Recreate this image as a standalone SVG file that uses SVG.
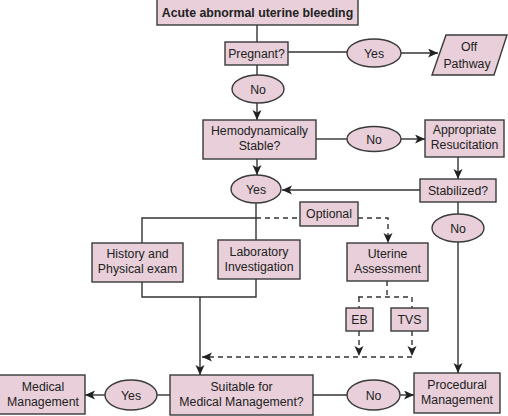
<svg xmlns="http://www.w3.org/2000/svg" width="508" height="416" viewBox="0 0 508 416">
<style>
.box{fill:#E8CFD9;stroke:#3a3a3a;stroke-width:1.4}
.t{font-family:"Liberation Sans",Arial,sans-serif;font-size:12.3px;fill:#222;text-anchor:middle}
.b{font-weight:bold}
.ln{fill:none;stroke:#333;stroke-width:1.4}
.ds{fill:none;stroke:#333;stroke-width:1.4;stroke-dasharray:5 4}
</style>
<defs>
<marker id="ah" markerUnits="userSpaceOnUse" markerWidth="11" markerHeight="10" refX="10" refY="4.5" orient="auto">
<path d="M0,0 L10,4.5 L0,9 L2.5,4.5 z" fill="#222"/>
</marker>
</defs>
<rect width="508" height="416" fill="#fff"/>
<g id="connectors">
<path class="ln" d="M257,25 V42"/>
<path class="ln" d="M288,52 H347"/>
<path class="ln" d="M401,53 H438" marker-end="url(#ah)"/>
<path class="ln" d="M257,65 V75"/>
<path class="ln" d="M257,103 V120" marker-end="url(#ah)"/>
<path class="ln" d="M316,139 H347"/>
<path class="ln" d="M401,139 H425" marker-end="url(#ah)"/>
<path class="ln" d="M458,157 V179" marker-end="url(#ah)"/>
<path class="ln" d="M257,159 V175" marker-end="url(#ah)"/>
<path class="ln" d="M420,190 H282" marker-end="url(#ah)"/>
<path class="ln" d="M256,203 V240"/>
<path class="ln" d="M256,218 H142 V243"/>
<path class="ds" d="M256,218 H300"/>
<path class="ds" d="M358,218 H388 V243" marker-end="url(#ah)"/>
<path class="ln" d="M458,202 V214"/>
<path class="ln" d="M458,242 V373" marker-end="url(#ah)"/>
<path class="ln" d="M142,282 V297 H256 V279"/>
<path class="ln" d="M200,297 V375" marker-end="url(#ah)"/>
<path class="ds" d="M387,281 V297"/>
<path class="ds" d="M358,297 H412"/>
<path class="ds" d="M359,297 V308"/>
<path class="ds" d="M412,297 V308"/>
<path class="ds" d="M359,331 V356" marker-end="url(#ah)"/>
<path class="ds" d="M412,331 V356" marker-end="url(#ah)"/>
<path class="ds" d="M412,357 H202" marker-end="url(#ah)"/>
<path class="ln" d="M170,395 H157"/>
<path class="ln" d="M105,395 H85" marker-end="url(#ah)"/>
<path class="ln" d="M313,395 H347"/>
<path class="ln" d="M400,395 H414" marker-end="url(#ah)"/>
</g>
<g id="n_start"><rect class="box" x="157" y="-1" width="201" height="26"/><text class="t b" x="257.5" y="17">Acute abnormal uterine bleeding</text></g>
<g id="n_pregnant"><rect class="box" x="225" y="42" width="63" height="23"/><text class="t" x="256.5" y="58">Pregnant?</text></g>
<g id="n_yes1"><ellipse class="box" cx="374" cy="53" rx="27" ry="14"/><text class="t" x="374" y="57.5">Yes</text></g>
<g id="n_off"><polygon class="box" points="446,35 507,35 494,75 432,75"/><text class="t" x="469" y="51">Off</text><text class="t" x="467" y="68">Pathway</text></g>
<g id="n_no1"><ellipse class="box" cx="258" cy="89" rx="26" ry="14"/><text class="t" x="258" y="93.5">No</text></g>
<g id="n_hemo"><rect class="box" x="203" y="120" width="113" height="39"/><text class="t" x="259.5" y="135">Hemodynamically</text><text class="t" x="259.5" y="150">Stable?</text></g>
<g id="n_no2"><ellipse class="box" cx="374" cy="139" rx="27" ry="12.5"/><text class="t" x="374" y="143.5">No</text></g>
<g id="n_resus"><rect class="box" x="425" y="120" width="79" height="37"/><text class="t" x="464.5" y="134">Appropriate</text><text class="t" x="464.5" y="149">Resucitation</text></g>
<g id="n_stab"><rect class="box" x="420" y="179" width="76" height="23"/><text class="t" x="458" y="195">Stabilized?</text></g>
<g id="n_yes2"><ellipse class="box" cx="256" cy="189" rx="25" ry="14"/><text class="t" x="256" y="193.5">Yes</text></g>
<g id="n_optional"><rect class="box" x="300" y="202" width="58" height="24"/><text class="t" x="329" y="218">Optional</text></g>
<g id="n_no3"><ellipse class="box" cx="458" cy="228" rx="26" ry="14"/><text class="t" x="458" y="232.5">No</text></g>
<g id="n_history"><rect class="box" x="92" y="243" width="91" height="39"/><text class="t" x="137.5" y="258">History and</text><text class="t" x="137.5" y="273">Physical exam</text></g>
<g id="n_lab"><rect class="box" x="218" y="240" width="82" height="39"/><text class="t" x="259" y="256">Laboratory</text><text class="t" x="259" y="271">Investigation</text></g>
<g id="n_uterine"><rect class="box" x="347" y="243" width="81" height="38"/><text class="t" x="387.5" y="258">Uterine</text><text class="t" x="387.5" y="273">Assessment</text></g>
<g id="n_eb"><rect class="box" x="346" y="308" width="27" height="23"/><text class="t" x="359.5" y="324">EB</text></g>
<g id="n_tvs"><rect class="box" x="391" y="308" width="37" height="23"/><text class="t" x="409.5" y="324">TVS</text></g>
<g id="n_medical"><rect class="box" x="-1" y="375" width="86" height="39"/><text class="t" x="43" y="391">Medical</text><text class="t" x="43" y="406">Management</text></g>
<g id="n_yes3"><ellipse class="box" cx="131" cy="395" rx="26" ry="15"/><text class="t" x="131" y="399.5">Yes</text></g>
<g id="n_suitable"><rect class="box" x="170" y="375" width="143" height="40"/><text class="t" x="241.5" y="391">Suitable for</text><text class="t" x="241.5" y="406">Medical Management?</text></g>
<g id="n_no4"><ellipse class="box" cx="373.5" cy="395" rx="26.5" ry="15"/><text class="t" x="373.5" y="399.5">No</text></g>
<g id="n_proc"><rect class="box" x="414" y="373" width="86" height="40"/><text class="t" x="457" y="389">Procedural</text><text class="t" x="457" y="404">Management</text></g>
</svg>
